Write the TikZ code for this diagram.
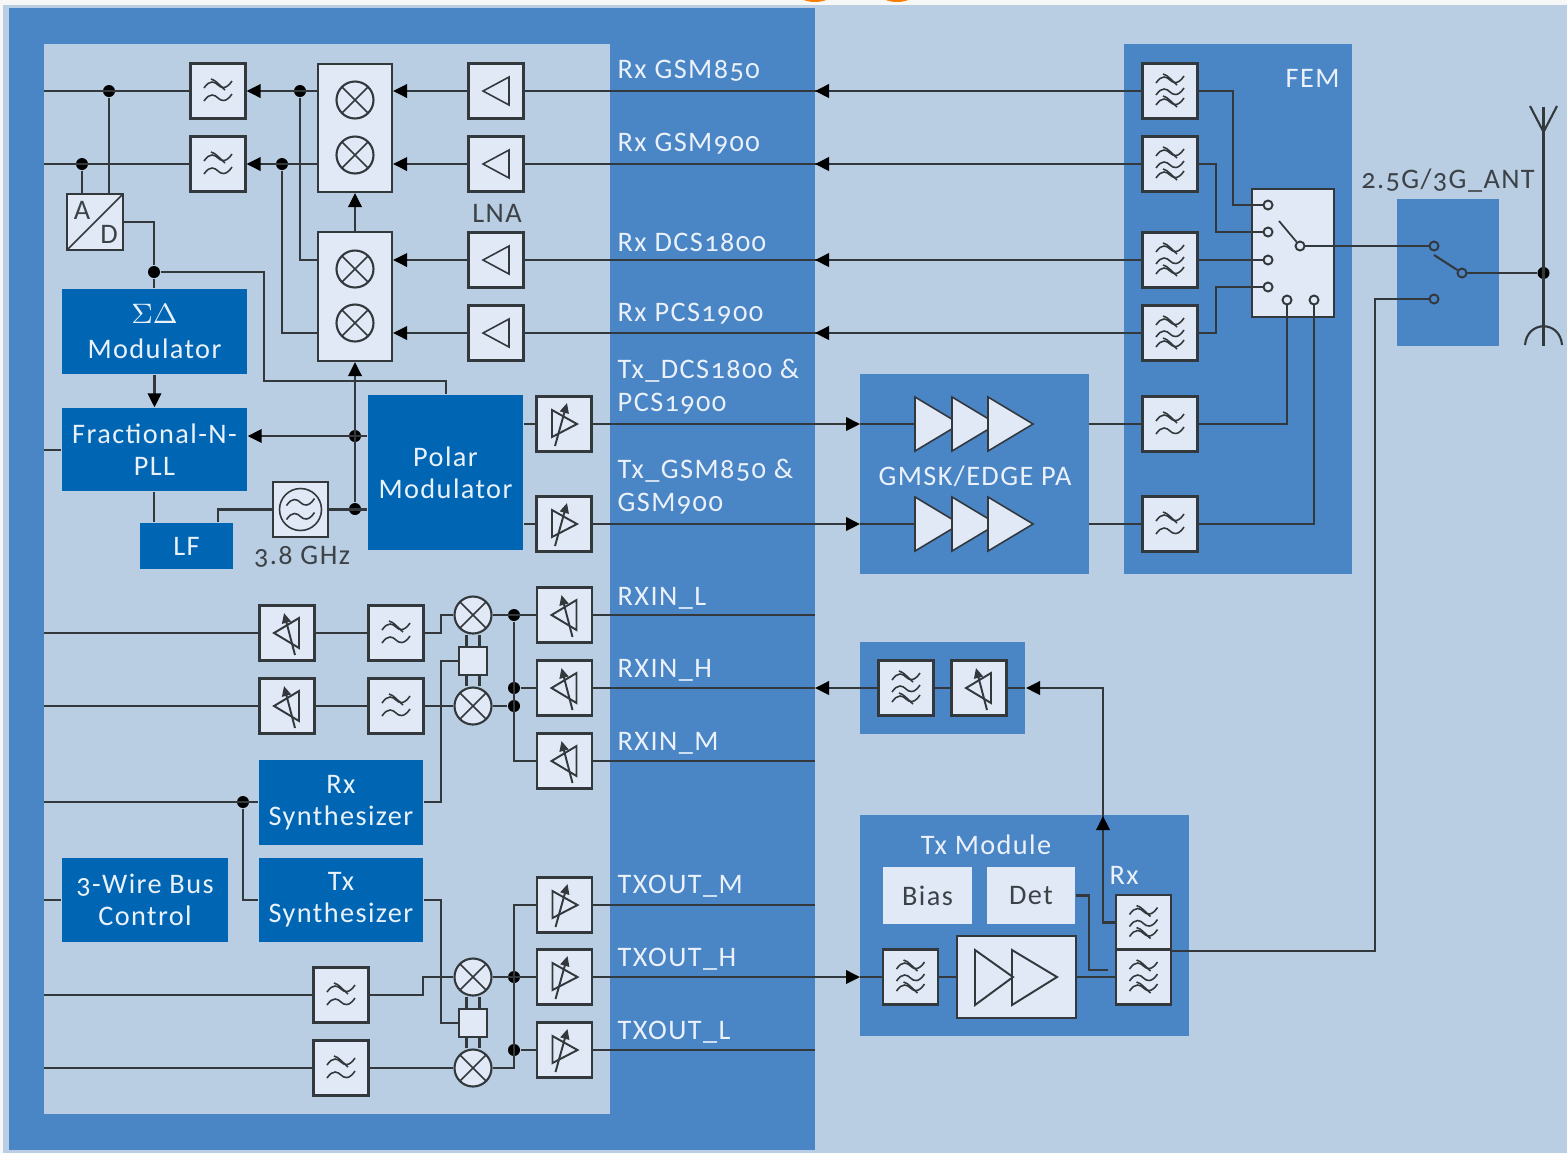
\documentclass[tikz,border=0pt]{standalone}
\usepackage{fontspec}
\setmainfont[Numbers=OldStyle,LetterSpace=5]{Carlito}
\usetikzlibrary{arrows.meta, calc}
\definecolor{bgblue}{HTML}{B9CEE2}
\definecolor{midblue}{HTML}{4A85C5}
\definecolor{darkblue}{HTML}{0066B3}
\definecolor{boxfill}{HTML}{E1E9F6}
\definecolor{wirecol}{HTML}{33383D}
\definecolor{txtcol}{HTML}{3C4248}
\definecolor{txtlight}{HTML}{EAF1FA}

% one tilde, centred on #1/#2
\newcommand{\wavy}[2]{
  \draw[icon] (-14,#2+3) .. controls (-8,#2-6) and (-3,#2-3) .. (0,#2)
    .. controls (3,#2+3) and (8,#2+5) .. (14,#2-4);
}
\newcommand{\cutwavy}[2]{
  \wavy{#1}{#2}
  \draw[icon] (-7,#2-6) .. controls (-2,#2-5) and (2,#2+1) .. (7,#2+5);
}
\tikzset{
  pxunits/.style={x=0.1mm, y=-0.1mm},
  icon/.style={draw=wirecol, line width=0.45pt},
  wire/.style={draw=wirecol, line width=0.6pt},
  arrw/.style={wire, -{Triangle[length=1.4mm, width=1.35mm, black]}},
  box/.style={draw=wirecol, line width=0.6pt, fill=boxfill, inner sep=0pt,
    minimum width=5.5mm, minimum height=5.5mm},
  ctrl/.style={fill=darkblue, text=txtlight, inner sep=0pt, align=center},
  region/.style={fill=midblue},
  lbl/.style={text=txtlight, anchor=west, inner sep=0pt},
  txtdark/.style={text=txtcol, inner sep=0pt},
  junct/.style={circle, fill=black, inner sep=0pt, minimum size=1.2mm},
  port/.style={circle, draw=wirecol, line width=0.55pt, inner sep=0pt, minimum size=0.9mm},
  lpf/.style={box, path picture={
    \begin{scope}[pxunits, shift={(path picture bounding box.center)}]
      \cutwavy{0}{-6}
      \wavy{0}{7}
    \end{scope}}},
  hpf/.style={box, path picture={
    \begin{scope}[pxunits, shift={(path picture bounding box.center)}]
      \cutwavy{0}{-11}
      \wavy{0}{1}
      \cutwavy{0}{11}
    \end{scope}}},
  lna/.style={box, path picture={
    \begin{scope}[pxunits, shift={(path picture bounding box.center)}]
      \draw[icon] (13,-14) -- (13,14) -- (-13,0) -- cycle;
    \end{scope}}},
  vgarx/.style={box, path picture={
    \begin{scope}[pxunits, shift={(path picture bounding box.center)}]
      \draw[icon, line width=0.55pt] (12,-15) -- (12,15) -- (-13,0) -- cycle;
      \draw[icon, line width=0.55pt, -{Triangle[length=1mm, width=0.9mm]}] (8,22) -- (-3,-20);
    \end{scope}}},
  vgatx/.style={box, path picture={
    \begin{scope}[pxunits, shift={(path picture bounding box.center)}]
      \draw[icon, line width=0.55pt] (-12,-14) -- (-12,13) -- (13,0) -- cycle;
      \draw[icon, line width=0.55pt, -{Triangle[length=1mm, width=0.9mm]}] (-9,22) -- (3,-21);
    \end{scope}}},
  mix/.style={circle, draw=wirecol, line width=0.6pt, fill=boxfill, inner sep=0pt,
    minimum size=3.7mm, path picture={
      \draw[icon] (path picture bounding box.north west) -- (path picture bounding box.south east);
      \draw[icon] (path picture bounding box.north east) -- (path picture bounding box.south west);}},
}

\begin{document}
\begin{tikzpicture}[pxunits, font=\fontsize{8.05}{9.1}\selectfont]
  \useasboundingbox (0,0) rectangle (1567,1153);
  % page and regions
  \fill[white!97!black] (0,0) rectangle (1567,1153);
  \fill[orange] (815,-3) ellipse (14 and 5);
  \fill[orange] (897,-3) ellipse (14 and 5);
  \fill[bgblue] (3,5) rectangle (1567,1153);
  \fill[region] (9,8) rectangle (815,1150);
  \fill[bgblue] (44,44) rectangle (610,1114);
  \fill[region] (860,374) rectangle (1089,574);
  \fill[region] (1124,44) rectangle (1352,574);
  \fill[region] (1397,199) rectangle (1499,346);
  \fill[region] (860,642) rectangle (1025,734);
  \fill[region] (860,815) rectangle (1189,1036);

  % edge points on the left and right of the chip
  \foreach \n/\y in {a/91,b/164,c/633,d/706,e/802,f/995,g/1068,h/450,k/900}{
    \coordinate (L\n) at (44,\y);
  }
  \foreach \n/\y in {a/91,b/164,c/260,d/333,e/688}{
    \coordinate (R\n) at (815,\y);
  }
  \foreach \n/\y in {f/615,g/761,h/905,k/977,l/1050}{
    \coordinate (R\n) at (815,\y);
  }

  % Rx path
  \node[lpf] (lpA) at (218,91) {};
  \node[lpf] (lpB) at (218,164) {};
  \node[box, minimum width=7.4mm, minimum height=12.8mm] (mixA) at (355,128) {};
  \node[box, minimum width=7.4mm, minimum height=12.9mm] (mixB) at (355,296.5) {};
  \foreach \n/\y in {a/100,b/155,c/269,d/323}{
    \node[mix] (mx\n) at (355,\y) {};
  }
  \foreach \n/\y in {A/91,B/164,C/260,D/333}{
    \node[lna] (lna\n) at (496,\y) {};
    \node[hpf] (fem\n) at (1170,\y) {};
  }
  \node[txtdark] (lnalbl) at (497,213) {LNA};
  \node[box, minimum width=5.6mm, minimum height=5.6mm, path picture={
    \draw[icon] (path picture bounding box.south west) -- (path picture bounding box.north east);}]
    (adc) at (95,222) {};
  \node[inner sep=0pt, text=txtcol] (adA) at (82,210) {A};
  \node[inner sep=0pt, text=txtcol] (adD) at (109,234) {D};
  \node[junct] (ja) at (109,91) {};
  \node[junct] (jb) at (82,164) {};
  \node[junct] (jc) at (300,91) {};
  \node[junct] (jd) at (282,164) {};
  \node[junct] (je) at (154,272) {};
  \foreach \n in {A,B}{
    \draw[arrw] (lna\n.west) -- (lna\n.west -| mixA.east);
  }
  \foreach \n in {C,D}{
    \draw[arrw] (lna\n.west) -- (lna\n.west -| mixB.east);
  }
  \foreach \n/\t in {A/a,B/b,C/c,D/d}{
    \draw[wire] (fem\n.west) -- (lna\n.east);
    \draw[arrw] (fem\n.west) -- (R\t);
  }
  \draw[arrw] (mixA.west |- lpA) -- (lpA.east);
  \draw[arrw] (mixA.west |- lpB) -- (lpB.east);
  \draw[wire] (La) -- (lpA.west);
  \draw[wire] (Lb) -- (lpB.west);
  \draw[wire] (ja) -- (ja |- adc.north);
  \draw[wire] (jb) -- (jb |- adc.north);
  \draw[wire] (jc) |- (mixB.west |- lnaC);
  \draw[wire] (jd) |- (mixB.west |- lnaD);
  \draw[arrw] (mixB.north) -- (mixA.south);

  % synthesiser and polar part
  \node[ctrl, minimum width=18.5mm, minimum height=8.5mm] (sdm) at (154.5,331.5) {$\Sigma\Delta$\\[1pt]Modulator};
  \node[ctrl, minimum width=18.5mm, minimum height=8.3mm] (pll) at (154.5,449.5) {Fractional-N-\\PLL};
  \node[ctrl, minimum width=9.3mm, minimum height=4.6mm] (lf) at (186.5,546) {LF};
  \node[ctrl, minimum width=15.5mm, minimum height=15.5mm] (polar) at (445.5,472.5) {Polar\\Modulator};
  \node[box, path picture={
    \begin{scope}[pxunits, shift={(path picture bounding box.center)}]
      \draw[icon] (0,0) circle (21);
      \wavy{0}{-7}
      \wavy{0}{7}
    \end{scope}}] (osc) at (300.5,509.5) {};
  \node[txtdark] (osclbl) at (302,557) {3.8 GHz};
  \node[junct] (jf) at (355,436) {};
  \node[junct] (jg) at (355,509) {};
  \coordinate (hk) at (446,381);
  \draw[wire] (adc.east) -| (je);
  \draw[wire] (je) -- (sdm.north -| je);
  \draw[wire] (je) -| (264,381) -- (hk) -- (polar.north -| hk);
  \draw[arrw] (sdm.south) -- (pll.north);
  \draw[arrw] (polar.west |- jf) -- (pll.east |- jf);
  \draw[wire] (Lh) -- (pll.west |- Lh);
  \draw[wire] (pll.south -| je) -- (lf.north -| je);
  \draw[wire] (osc.west) -| (lf.north -| 218,0);
  \draw[wire] (osc.east) -- (polar.west |- osc);
  \draw[arrw] (jg) -- (mixB.south);

  \node[vgatx] (ptA) at (564,424) {};
  \node[vgatx] (ptB) at (564,524) {};
  \draw[wire] (polar.east |- ptA) -- (ptA.west);
  \draw[wire] (polar.east |- ptB) -- (ptB.west);

  % power amplifier
  \coordinate (paA) at (915,424);
  \coordinate (paB) at (915,524);
  \draw[arrw] (ptA.east) -- (860,424);
  \draw[arrw] (ptB.east) -- (860,524);
  \draw[wire] (860,424) -- (paA);
  \draw[wire] (860,524) -- (paB);
  \foreach \y in {424,524}{
    \foreach \dx in {0,37,73}{
      \filldraw[icon, fill=boxfill] (915+\dx,\y-27) -- (915+\dx,\y+27) -- (960+\dx,\y) -- cycle;
    }
  }
  \node[text=txtlight, inner sep=0pt] (palbl) at (975,476) {GMSK/EDGE PA};

  % FEM and antenna
  \node[lbl] (femlbl) at (1285,78) {FEM};
  \node[lpf] (femE) at (1170,424) {};
  \node[lpf] (femF) at (1170,524) {};
  \draw[wire] (1089,424) -- (femE.west);
  \draw[wire] (1089,524) -- (femF.west);
  \node[box, minimum width=8.2mm, minimum height=12.8mm] (sw) at (1293,253) {};
  \foreach \n/\x/\y in {a/1268/205,b/1268/232,c/1268/260,d/1268/287,e/1287/300,f/1314/300,g/1300/246}{
    \node[port, fill=boxfill] (sw\n) at (\x,\y) {};
  }
  \coordinate (bladeA) at (1279,221);
  \draw[wire, line width=0.5pt] (bladeA) -- (swg);
  \draw[wire] (femA.east) -| (1233,205) -- (swa);
  \draw[wire] (femB.east) -| (1216,232) -- (swb);
  \draw[wire] (femC.east) -- (swc);
  \draw[wire] (femD.east) -| (1216,287) -- (swd);
  \draw[wire] (femE.east) -| (swe);
  \draw[wire] (femF.east) -| (swf);

  \node[txtdark] (antlbl) at (1448,181) {2.5G/3G\_ANT};
  \node[port, fill=midblue] (ana) at (1434,246) {};
  \node[port, fill=midblue] (anb) at (1462,273) {};
  \node[port, fill=midblue] (anc) at (1434,299) {};
  \node[junct] (jant) at (1543.5,273) {};
  \coordinate (anttop) at (1543.5,107);
  \coordinate (antbot) at (1543.5,346);
  \coordinate (bladeB) at (1434,255);
  \draw[wire] (swg) -- (ana);
  \draw[wire] (anb) -- (jant);
  \draw[wire] (bladeB) -- (anb);
  \draw[wire] (anttop) -- (antbot);
  \draw[wire] (1530,106) -- (1543.5,132) -- (1557,106);
  \draw[wire] (1525,345) .. controls (1527,320) and (1560,320) .. (1562,345);

  % RXIN branch
  \foreach \n/\y in {A/615,B/688,C/761}{
    \node[vgarx] (rv\n) at (564.5,\y) {};
  }
  \foreach \n/\y in {A/633,B/706}{
    \node[vgarx] (lv\n) at (287,\y) {};
    \node[lpf] (lf\n) at (396,\y) {};
    \draw[wire] (lv\n.east) -- (lf\n.west);
  }
  \node[mix] (miA) at (473,615) {};
  \node[mix] (miB) at (473,706) {};
  \foreach \d in {-6.5,6.5}{
    \draw[wire] ($(miA.south)+(\d,0)$) -- ($(miB.north)+(\d,0)$);
  }
  \node[box, minimum width=2.8mm, minimum height=2.8mm] (psA) at (473,661) {};
  \node[junct] (jh) at (514,615) {};
  \node[junct] (jk) at (514,688) {};
  \node[junct] (jl) at (514,706) {};
  \node[junct] (jm) at (243,802) {};
  \node[ctrl, minimum width=16.4mm, minimum height=8.5mm] (rxs) at (341,802.5) {Rx\\Synthesizer};
  \node[ctrl, minimum width=16.4mm, minimum height=8.4mm] (txs) at (341,900) {Tx\\Synthesizer};
  \node[ctrl, minimum width=16.6mm, minimum height=8.4mm] (bus) at (145,900) {3-Wire Bus\\Control};
  \draw[wire] (Lc) -- (lvA.west);
  \draw[wire] (Ld) -- (lvB.west);
  \draw[wire] (lfA.east) -| (441,615) -- (miA.west);
  \draw[wire] (lfB.east) -- (miB.west);
  \draw[wire] (Le) -- (rxs.west |- Le);
  \draw[wire] (jm) |- (txs.west);
  \draw[wire] (Lk) -- (bus.west);
  \draw[wire] (rxs.east |- Le) -| (441,661) -- (psA.west);
  \draw[wire] (miA.east) -- (rvA.west);
  \draw[wire] (miB.east) -- (jl);
  \draw[wire] (jk) -- (rvB.west);
  \draw[wire] (jh) -- (514,761) -- (rvC.west);
  \draw[wire] (rvA.east) -- (Rf);
  \draw[wire] (rvC.east) -- (Rg);
  \node[hpf] (rxf) at (906,688) {};
  \node[vgarx] (rxv) at (979,688) {};
  \draw[arrw] (860,688) -- (Re);
  \draw[wire] (rvB.east) -- (Re);
  \draw[wire] (860,688) -- (rxf.west);
  \draw[wire] (rxf.east) -- (rxv.west);
  \draw[wire] (rxv.east) -- (1025,688);

  % TXOUT branch
  \foreach \n/\y in {A/905,B/977,C/1050}{
    \node[vgatx] (tv\n) at (564.5,\y) {};
    \draw[wire] (tv\n.east) -- (815,\y);
  }
  \node[lpf] (ltA) at (341,995) {};
  \node[lpf] (ltB) at (341,1068) {};
  \node[mix] (miC) at (473,977) {};
  \node[mix] (miD) at (473,1068) {};
  \foreach \d in {-6.5,6.5}{
    \draw[wire] ($(miC.south)+(\d,0)$) -- ($(miD.north)+(\d,0)$);
  }
  \node[box, minimum width=2.8mm, minimum height=2.8mm] (psB) at (473,1023) {};
  \node[junct] (jn) at (514,977) {};
  \node[junct] (jp) at (514,1050) {};
  \draw[wire] (Lf) -- (ltA.west);
  \draw[wire] (Lg) -- (ltB.west);
  \draw[wire] (ltA.east) -| (423,977) -- (miC.west);
  \draw[wire] (ltB.east) -- (miD.west);
  \draw[wire] (txs.east) -| (441,1023) -- (psB.west);
  \draw[wire] (miC.east) -- (tvB.west);
  \draw[wire] (miD.east) -| (514,905) -- (tvA.west);
  \draw[wire] (jp) -- (tvC.west);

  % Tx module
  \node[text=txtlight, inner sep=0pt] (modlbl) at (986,844.5) {Tx Module};
  \node[txtdark, fill=boxfill, minimum width=8.9mm, minimum height=5.7mm] (bias) at (927.5,895.5) {Bias};
  \node[txtdark, fill=boxfill, minimum width=8.8mm, minimum height=5.7mm] (det) at (1031,895.5) {Det};
  \node[hpf] (tmf) at (910.5,977) {};
  \node[box, minimum width=11.9mm, minimum height=8.2mm] (tpa) at (1016.5,977) {};
  \draw[icon, line width=0.55pt] (975,950) -- (975,1005) -- (1013,977) -- cycle;
  \draw[icon, line width=0.55pt] (1012,950) -- (1012,1005) -- (1057,977) -- cycle;
  \node[hpf] (duxA) at (1143.5,922.5) {};
  \node[hpf] (duxB) at (1143.5,977) {};
  \node[text=txtlight, inner sep=0pt] (rxlbl) at (1124,875) {Rx};
  \draw[arrw] (tvB.east) -- (tmf.west -| 860,0);
  \draw[wire] (860,977) -- (tmf.west);
  \draw[wire] (tmf.east) -- (tpa.west);
  \draw[wire] (tpa.east) -- (duxB.west);
  \draw[wire] (det.east) -| (1089,970) -- (1108,970);
  \draw[arrw] (duxA.west) -| (1103,688) -- (1026,688);
  \draw[arrw] (duxA.west -| 1103,0) -- (1103,816);
  \draw[wire] (duxA.south east) -| (1375,299) -- (anc);

  % signal labels
  \foreach \y/\txt in {71/Rx GSM850,144/Rx GSM900,242/Rx DCS1800,314/Rx PCS1900,371/Tx\_DCS1800 \&,404/PCS1900,471/Tx\_GSM850 \&,504/GSM900,598/RXIN\_L,670/RXIN\_H,743/RXIN\_M,886/TXOUT\_M,959/TXOUT\_H,1032/TXOUT\_L}{
    \node[lbl] (sig\y) at (617,\y) {\txt};
  }
\end{tikzpicture}
\end{document}
